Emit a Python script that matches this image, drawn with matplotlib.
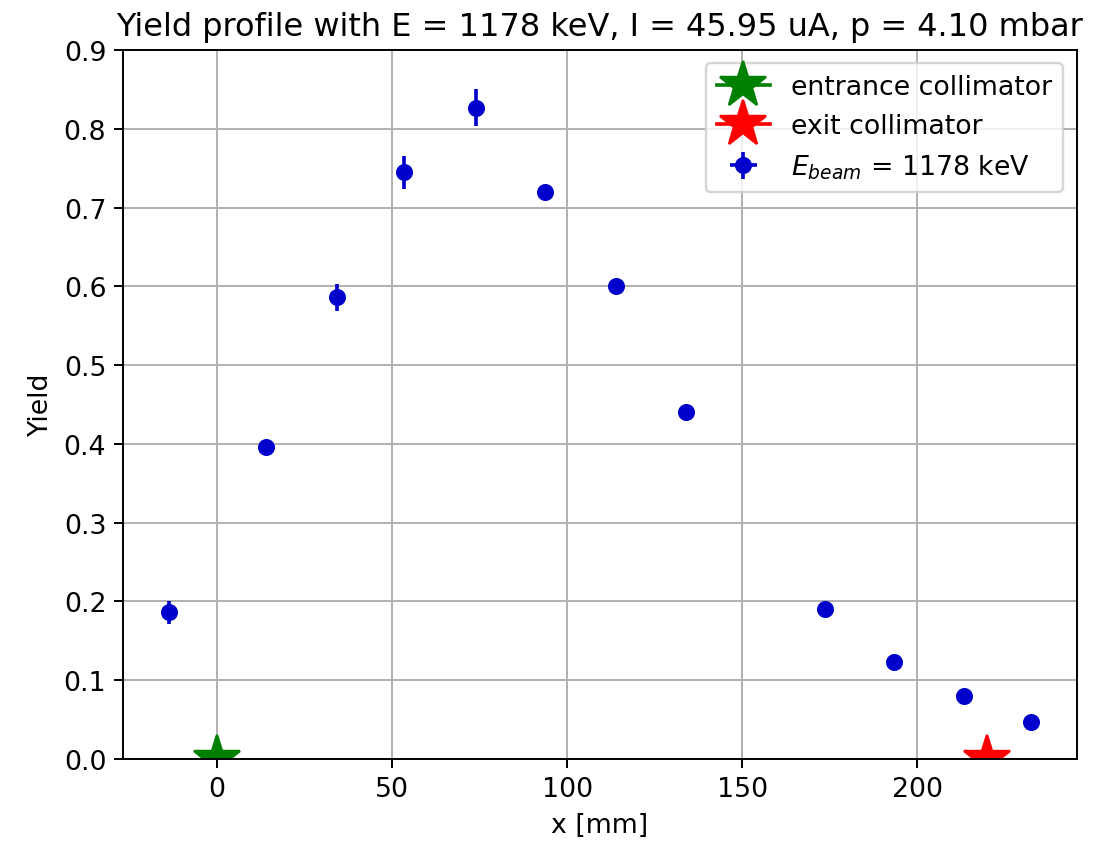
import matplotlib
matplotlib.use("Agg")
import matplotlib.pyplot as plt

x_mm = [-13.7, 14.0, 34.3, 53.5, 74.0, 93.7, 114.0, 134.0, 173.7, 193.4, 213.4, 232.6]
yield_vals = [0.186, 0.396, 0.586, 0.745, 0.827, 0.720, 0.601, 0.440, 0.191, 0.123, 0.080, 0.047]
yield_err = [0.015, 0.004, 0.017, 0.021, 0.023, 0.004, 0.007, 0.008, 0.003, 0.003, 0.003, 0.003]
x_err = [0.5] * len(x_mm)
entrance_x = [0]
exit_x = [220]

plt.rcParams['font.size'] = 11
fig = plt.figure(figsize=(1115/175, 843/175), dpi=175)
ax = fig.add_axes([0.1106, 0.0985, 0.855, 0.841])
ax.plot(entrance_x, [0], marker='*', color='green', markersize=20, label='entrance collimator')
ax.plot(exit_x, [0], marker='*', color='red', markersize=20, label='exit collimator')
ax.errorbar(x_mm, yield_vals, yerr=yield_err, xerr=x_err, fmt='o', color='mediumblue', label=r'$E_{beam}$ = 1178 keV')
ax.set_ylim(0, 0.9)
ax.set_xlim(-26.8, 245.6)
ax.set_xlabel('x [mm]')
ax.set_ylabel('Yield')
ax.set_title('Yield profile with E = 1178 keV, I = 45.95 uA, p = 4.10 mbar')
ax.grid(True)
ax.legend(loc='upper right')
fig.savefig('out.png', dpi=175)
